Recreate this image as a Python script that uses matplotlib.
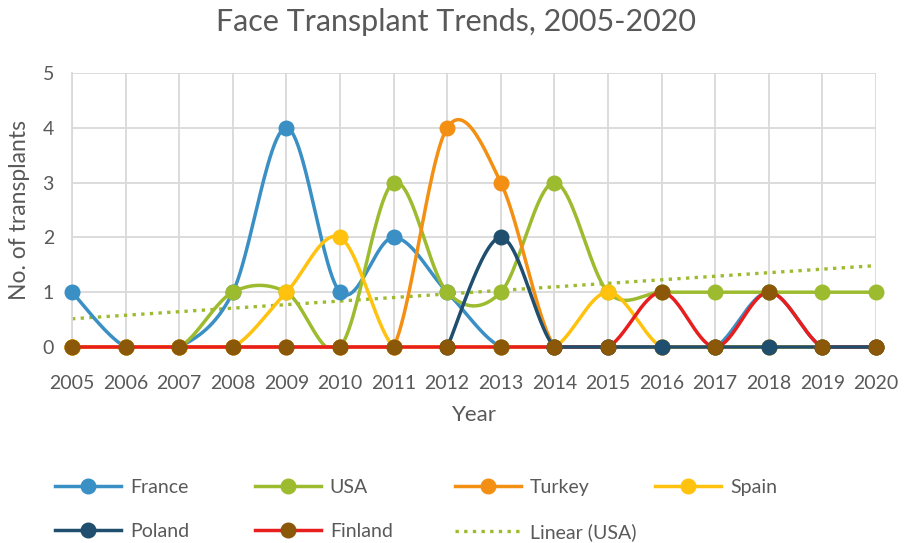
import numpy as np
import matplotlib
matplotlib.use("Agg")
import matplotlib.pyplot as plt
from matplotlib.lines import Line2D

plt.rcParams['font.family'] = ['Lato', 'DejaVu Sans']

nan = np.nan
years = list(range(2005, 2021))
france  = [1, 0, 0, 1, 4, 1, 2, 1, 0, 0, 0, 0, 0, 1, 0, 0]
usa     = [0, 0, 0, 1, 1, 0, 3, 1, 1, 3, 1, 1, 1, 1, 1, 1]
turkey  = [0, 0, 0, 0, 0, 0, 0, 4, 3, 0, 0, 0, 0, 0, 0, 0]
spain   = [0, 0, 0, 0, 1, 2, 0, 0, 0, 0, 1, 0, 0, 0, 0, 0]
poland  = [nan, nan, nan, nan, nan, nan, nan, 0, 2, 0, 0, 0, 0, 0, 0, 0]
finland = [0, 0, 0, 0, 0, 0, 0, 0, 0, 0, 0, 1, 0, 1, 0, 0]

title = "Face Transplant Trends, 2005-2020"
xlabel = "Year"
ylabel = "No. of transplants"

c_france = '#3A8FC4'
c_usa = '#9DBB2E'
c_turkey = '#F39014'
c_spain = '#FFC20E'
c_poland = '#1F4E6E'
c_fin_line = '#E81E1E'
c_fin_mark = '#8B5708'
c_text = '#595959'
c_grid = '#D9D9D9'

fig = plt.figure(figsize=(9.07, 5.43), dpi=100)
ax = fig.add_axes([72 / 907, 196 / 543, 804 / 907, 274 / 543])
ax.set_xlim(2005, 2020)
ax.set_ylim(0, 5)


def smooth_run(pts, n=50):
    """Excel-like Bezier smoothing (screen space, arms clamped to half a segment)."""
    m = len(pts)
    out = [pts[0]]
    t = np.linspace(0, 1, n)[1:]
    for i in range(m - 1):
        p0 = pts[i - 1] if i > 0 else pts[i]
        p1 = pts[i]
        p2 = pts[i + 1]
        p3 = pts[i + 2] if i + 2 < m else pts[i + 1]
        d12 = np.linalg.norm(p2 - p1)
        d02 = np.linalg.norm(p2 - p0)
        d13 = np.linalg.norm(p3 - p1)
        f1 = 1 / 6 if d02 / 6 < d12 / 2 else (d12 / 2 / d02 if d02 > 0 else 0)
        f2 = 1 / 6 if d13 / 6 < d12 / 2 else (d12 / 2 / d13 if d13 > 0 else 0)
        c1 = p1 + (p2 - p0) * f1
        c2 = p2 - (p3 - p1) * f2
        seg = ((1 - t) ** 3)[:, None] * p1 + (3 * (1 - t) ** 2 * t)[:, None] * c1 \
            + (3 * (1 - t) * t ** 2)[:, None] * c2 + (t ** 3)[:, None] * p2
        out.extend(seg)
    return np.array(out)


def smooth(x, y):
    x = np.asarray(x, float)
    y = np.asarray(y, float)
    ok = ~np.isnan(y)
    xs_all, ys_all = [], []
    idx = np.where(ok)[0]
    if len(idx) == 0:
        return np.array([]), np.array([])
    runs = np.split(idx, np.where(np.diff(idx) > 1)[0] + 1)
    for r in runs:
        disp = ax.transData.transform(np.column_stack([x[r], y[r]]))
        curve = smooth_run(disp)
        data = ax.transData.inverted().transform(curve)
        xs_all.extend(list(data[:, 0]) + [np.nan])
        ys_all.extend(list(np.maximum(data[:, 1], 0)) + [np.nan])
    return np.array(xs_all), np.array(ys_all)


lw = 2.5
ms = 10.5
# (values, line colour, marker colour, name, line zorder, marker zorder)
series = [
    (france, c_france, c_france, 'France', 3.0, 3.05),
    (usa, c_usa, c_usa, 'USA', 3.1, 3.15),
    (turkey, c_turkey, c_turkey, 'Turkey', 3.2, 3.25),
    (spain, c_spain, c_spain, 'Spain', 3.3, 3.35),
    (poland, c_poland, c_poland, 'Poland', 3.5, 3.55),
    (finland, c_fin_line, c_fin_mark, 'Finland', 3.4, 3.9),
]

# trendline for USA
coef = np.polyfit(years, usa, 1)
trend = np.polyval(coef, years)
ax.plot(years, trend, color=c_usa, lw=2.4, linestyle=(0, (1, 1.6)),
        dash_capstyle='butt', zorder=2, clip_on=False)

handles = {}
for vals, lc, mc, name, z, mz in series:
    sx, sy = smooth(years, vals)
    ax.plot(sx, sy, color=lc, lw=lw, zorder=z, clip_on=False,
            solid_capstyle='round')
    ax.plot(years, vals, linestyle='none', marker='o', ms=ms, mfc=mc, mec=mc,
            zorder=mz, clip_on=False)
    handles[name] = Line2D([], [], color=lc, lw=lw, marker='o', ms=ms, mfc=mc, mec=mc)
handles['Linear (USA)'] = Line2D([], [], color=c_usa, lw=2.4, linestyle=(0, (1, 1.6)),
                                 dash_capstyle='butt')

ax.set_xticks(years)
ax.set_yticks(range(0, 6))
ax.grid(True, color=c_grid, lw=1.3, zorder=0)
ax.set_axisbelow(True)
for s in ['top', 'right']:
    ax.spines[s].set_visible(False)
for s in ['left', 'bottom']:
    ax.spines[s].set_color(c_grid)
    ax.spines[s].set_linewidth(1.3)
ax.tick_params(axis='both', length=0, labelsize=14, labelcolor=c_text)
ax.tick_params(axis='x', pad=20)
ax.tick_params(axis='y', pad=13)

ax.set_xlabel(xlabel, fontsize=16, color=c_text)
ax.xaxis.set_label_coords(0.5, -0.21)
ax.set_ylabel(ylabel, fontsize=16.5, color=c_text)
ax.yaxis.set_label_coords(-0.052, 0.5)

fig.text(0.503, 1 - 22 / 543, title, fontsize=22, color=c_text, ha='center', va='center')

# legend, one column per group
cols = [['France', 'Poland'], ['USA', 'Finland'], ['Turkey', 'Linear (USA)'], ['Spain']]
xs = [55, 255, 455, 655]
for names, xp in zip(cols, xs):
    fig.legend([handles[n] for n in names], names, loc='upper left',
               bbox_to_anchor=(xp / 907, 1 - 479 / 543), frameon=False,
               borderpad=0, borderaxespad=0, handlelength=3.4, handletextpad=0.45,
               labelspacing=1.4, fontsize=14, labelcolor=c_text)

fig.savefig('out.png', dpi=100)
